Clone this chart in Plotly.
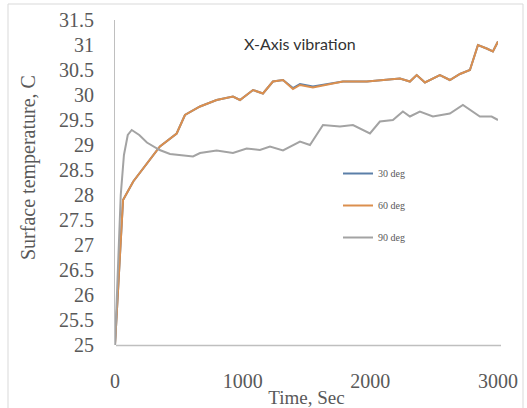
import plotly.graph_objects as go

# Time (s) and surface temperature (C)
t_60 = [0, 63, 143, 248, 352, 483, 548, 666, 796, 924, 979, 1081, 1159, 1237, 1316,
        1394, 1449, 1550, 1707, 1785, 1973, 2130, 2232, 2310, 2363, 2428, 2545, 2623,
        2702, 2780, 2843, 2911, 2960, 3000]
v_60 = [25.0, 27.9, 28.27, 28.63, 28.97, 29.23, 29.6, 29.77, 29.9, 29.97, 29.9, 30.1,
        30.03, 30.27, 30.3, 30.12, 30.2, 30.15, 30.23, 30.27, 30.27, 30.3, 30.33, 30.27,
        30.4, 30.25, 30.4, 30.3, 30.42, 30.5, 31.0, 30.93, 30.87, 31.07]

t_30 = t_60
v_30 = [25.0, 27.9, 28.27, 28.63, 28.97, 29.23, 29.6, 29.77, 29.9, 29.97, 29.9, 30.1,
        30.03, 30.27, 30.3, 30.14, 30.22, 30.17, 30.24, 30.27, 30.27, 30.3, 30.33, 30.27,
        30.4, 30.25, 30.4, 30.3, 30.42, 30.5, 31.0, 30.93, 30.87, 31.07]

t_90 = [0, 45, 70, 100, 131, 190, 250, 350, 431, 520, 611, 666, 796, 924, 1031, 1135,
        1214, 1316, 1449, 1527, 1629, 1762, 1864, 1997, 2075, 2177, 2255, 2310, 2388,
        2490, 2623, 2725, 2858, 2950, 3000]
v_90 = [25.0, 28.0, 28.8, 29.2, 29.3, 29.2, 29.05, 28.9, 28.82, 28.8, 28.77, 28.84,
        28.89, 28.84, 28.93, 28.9, 28.97, 28.89, 29.07, 29.0, 29.4, 29.37, 29.4, 29.23,
        29.47, 29.5, 29.67, 29.57, 29.67, 29.57, 29.63, 29.8, 29.57, 29.57, 29.5]

series = [
    ("30 deg", t_30, v_30, "#5B7FA8"),
    ("60 deg", t_60, v_60, "#DB8F4E"),
    ("90 deg", t_90, v_90, "#A3A3A3"),
]

x_ticks = [0, 1000, 2000, 3000]
y_ticks = [25, 25.5, 26, 26.5, 27, 27.5, 28, 28.5, 29, 29.5, 30, 30.5, 31, 31.5]

fig = go.Figure()
for i, (name, t, v, c) in enumerate(series):
    fig.add_trace(go.Scatter(x=t, y=v, mode="lines", name=name, legendgroup=f"g{i}",
                             line=dict(color=c, width=2)))

W, H = 527, 408
ml, mr, mt, mb = 115, 29, 20, 63
PW, PH = W - ml - mr, H - mt - mb


def px(x):
    return (x - ml) / PW


def py(y):
    return (H - mb - y) / PH


fig.update_layout(
    width=W, height=H,
    margin=dict(l=ml, r=mr, t=mt, b=mb),
    paper_bgcolor="white", plot_bgcolor="rgba(0,0,0,0)",
    showlegend=True,
    legend=dict(x=px(338), y=py(159),
                xanchor="left", yanchor="top", bgcolor="rgba(0,0,0,0)",
                font=dict(family="Liberation Serif", size=10, color="#595959"),
                tracegroupgap=13, itemwidth=30),
    annotations=[
        dict(text="X-Axis vibration", x=px(300), y=py(43), xanchor="center", yanchor="middle",
             xref="paper", yref="paper", showarrow=False,
             font=dict(family="Lato", size=16, color="#333333")),
        dict(text="Surface temperature, C", x=px(28), y=py(168), xanchor="center",
             yanchor="middle", textangle=-90, xref="paper", yref="paper", showarrow=False,
             font=dict(family="Liberation Serif", size=20, color="#595959")),
    ],
    shapes=[
        dict(type="rect", xref="paper", yref="paper",
             x0=px(8), x1=px(523), y0=py(410), y1=py(4),
             line=dict(color="#D9D9D9", width=1)),
        dict(type="line", xref="paper", yref="paper", layer="above",
             x0=px(116), x1=px(501), y0=py(345.5), y1=py(345.5),
             line=dict(color="#BFBFBF", width=1.5)),
    ],
)

fig.update_xaxes(range=[0, 3000], tickvals=x_ticks, ticktext=[str(v) for v in x_ticks],
                 showgrid=False, zeroline=False, showline=False,
                 ticks="", ticklen=0, ticklabelstandoff=22, automargin=False,
                 tickfont=dict(family="Liberation Serif", size=20, color="#595959"),
                 title=dict(text="Time, Sec", standoff=4,
                            font=dict(family="Liberation Serif", size=19, color="#595959")))
fig.update_yaxes(range=[25, 31.5], tickvals=y_ticks, ticktext=[f"{v:g}" for v in y_ticks],
                 showgrid=False, zeroline=False, showline=True, linecolor="#BFBFBF",
                 linewidth=1, ticks="", ticklen=0, ticklabelstandoff=16, automargin=False,
                 tickfont=dict(family="Liberation Serif", size=20, color="#595959"))

fig.write_html("out.html")
